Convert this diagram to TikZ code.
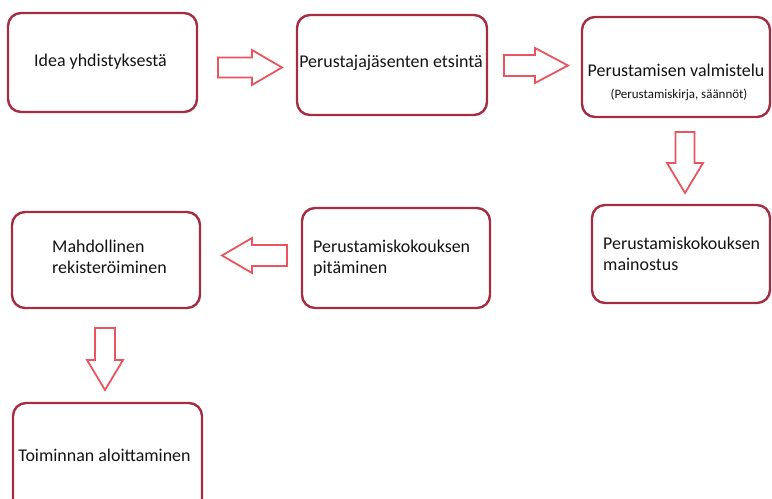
\documentclass[tikz,border=0pt]{standalone}
\usepackage{fontspec}
\setmainfont{Carlito}
\definecolor{boxred}{RGB}{165,45,65}
\definecolor{arrowred}{RGB}{232,85,95}
\definecolor{txt}{RGB}{20,20,20}
\tikzset{
  box/.style={draw=boxred, line width=2.4bp, rounded corners=13bp, fill=white, inner sep=0pt},
  lbl/.style={text=txt, font=\fontsize{18}{21}\selectfont, inner sep=0pt},
  lbll/.style={lbl, anchor=west, align=left},
  sublbl/.style={text=txt, font=\fontsize{13}{15}\selectfont, inner sep=0pt},
  blockarrow/.style={draw=arrowred, fill=white, line width=1.8bp, line join=miter}
}
\begin{document}
\begin{tikzpicture}[x=1bp,y=-1bp]
\useasboundingbox (0,0) rectangle (772,499);
\clip (0,0) rectangle (772,499);
% boxes
\node[box, minimum width=189bp, minimum height=99bp] (b1) at (102.5,62.5) {};
\node[box, minimum width=190bp, minimum height=100bp] (b2) at (392,65) {};
\node[box, minimum width=188bp, minimum height=100bp] (b3) at (676,67) {};
\node[box, minimum width=178bp, minimum height=98bp] (b4) at (681,254) {};
\node[box, minimum width=188bp, minimum height=100bp] (b5) at (396,258) {};
\node[box, minimum width=188bp, minimum height=96bp] (b6) at (106,260) {};
\node[box, minimum width=189bp, minimum height=112bp] (b7) at (107.5,459) {};
% texts
\node[lbl] (t1) at (100.5,62) {Idea yhdistyksestä};
\node[lbl] (t2) at (391,63) {Perustajajäsenten etsintä};
\node[lbl] (t3) at (676,70) {Perustamisen valmistelu};
\node[sublbl] (t3b) at (679,95) {(Perustamiskirja, säännöt)};
\node[lbll] (t4) at (603,254) {Perustamiskokouksen\\mainostus};
\node[lbll] (t5) at (313,258) {Perustamiskokouksen\\pitäminen};
\node[lbll] (t6) at (52,257) {Mahdollinen\\rekisteröiminen};
\node[lbl] (t7) at (104.5,455) {Toiminnan aloittaminen};
% block arrows
% b1 -> b2
\draw[blockarrow] (218,57.5) -- (252,57.5) -- (252,50) -- (282,67.5) -- (252,85) -- (252,77.5) -- (218,77.5) -- cycle;
% b2 -> b3
\draw[blockarrow] (504,55) -- (535,55) -- (535,48) -- (568,65.5) -- (535,83) -- (535,76) -- (504,76) -- cycle;
% b3 -> b4
\draw[blockarrow] (675.5,132) -- (675.5,163) -- (667,163) -- (685,193) -- (703,163) -- (694.5,163) -- (694.5,132) -- cycle;
% b5 -> b6
\draw[blockarrow] (287,245) -- (252,245) -- (252,238) -- (222,255.5) -- (252,273) -- (252,266) -- (287,266) -- cycle;
% b6 -> b7
\draw[blockarrow] (95,328) -- (95,360) -- (87,360) -- (105,390) -- (123,360) -- (115,360) -- (115,328) -- cycle;
\end{tikzpicture}
\end{document}
